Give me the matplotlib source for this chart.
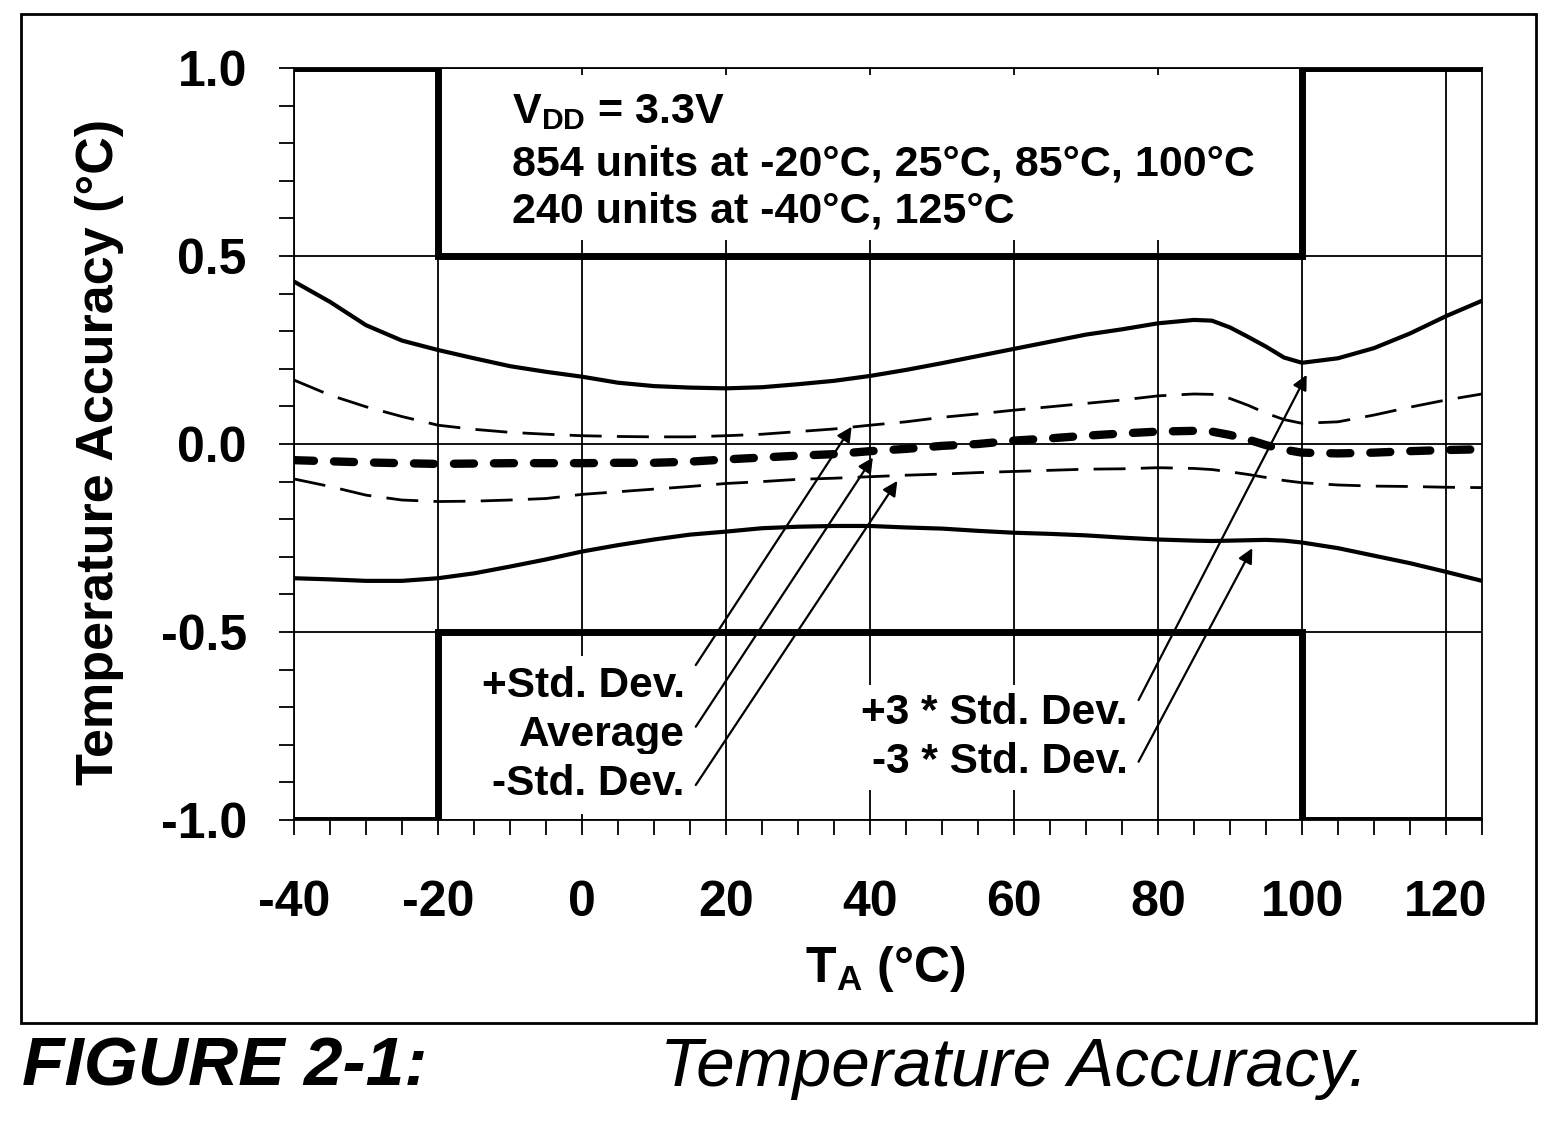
import matplotlib
matplotlib.use('Agg')
import matplotlib.pyplot as plt
from matplotlib.ticker import MultipleLocator
from matplotlib.patches import Rectangle

plt.rcParams['font.family'] = ['Liberation Sans', 'DejaVu Sans']
plt.rcParams['font.weight'] = 'bold'
plt.rcParams['axes.unicode_minus'] = False
plt.rcParams['mathtext.fontset'] = 'custom'
plt.rcParams['mathtext.rm'] = 'Liberation Sans:bold'
plt.rcParams['mathtext.bf'] = 'Liberation Sans:bold'

# data
temps = [-40, -35, -30, -25, -20, -15, -10, -5, 0, 5, 10, 15, 20, 25, 30, 35, 40, 45, 50,
         55, 60, 65, 70, 75, 80, 85, 87.5, 90, 92.5, 95, 97.5, 100, 105, 110, 115, 120, 125]
plus3sd = [0.432, 0.378, 0.316, 0.275, 0.250, 0.228, 0.207, 0.192, 0.179, 0.163, 0.154, 0.150,
           0.148, 0.151, 0.159, 0.168, 0.181, 0.197, 0.215, 0.234, 0.253, 0.272, 0.291, 0.305,
           0.321, 0.330, 0.328, 0.310, 0.285, 0.259, 0.230, 0.216, 0.228, 0.255, 0.294, 0.340, 0.381]
plus1sd = [0.170, 0.130, 0.099, 0.073, 0.050, 0.039, 0.031, 0.026, 0.022, 0.020, 0.019, 0.019,
           0.022, 0.026, 0.033, 0.040, 0.050, 0.059, 0.071, 0.080, 0.090, 0.099, 0.108, 0.117,
           0.128, 0.133, 0.132, 0.121, 0.103, 0.082, 0.065, 0.055, 0.059, 0.077, 0.098, 0.117, 0.133]
average = [-0.043, -0.046, -0.049, -0.051, -0.053, -0.052, -0.051, -0.051, -0.051, -0.050, -0.050,
           -0.047, -0.041, -0.036, -0.031, -0.027, -0.019, -0.013, -0.005, 0.000, 0.009, 0.015,
           0.022, 0.028, 0.033, 0.035, 0.033, 0.024, 0.012, -0.003, -0.015, -0.023, -0.025,
           -0.023, -0.019, -0.016, -0.014]
minus1sd = [-0.093, -0.113, -0.136, -0.149, -0.153, -0.152, -0.149, -0.145, -0.134, -0.127, -0.120,
            -0.113, -0.105, -0.100, -0.094, -0.091, -0.087, -0.083, -0.080, -0.076, -0.073, -0.070,
            -0.067, -0.066, -0.063, -0.065, -0.068, -0.074, -0.081, -0.089, -0.097, -0.103, -0.109,
            -0.112, -0.113, -0.115, -0.116]
minus3sd = [-0.357, -0.360, -0.364, -0.364, -0.357, -0.344, -0.326, -0.307, -0.286, -0.269, -0.254,
            -0.241, -0.233, -0.224, -0.220, -0.218, -0.218, -0.222, -0.225, -0.231, -0.236, -0.239,
            -0.243, -0.249, -0.254, -0.257, -0.258, -0.257, -0.256, -0.255, -0.257, -0.262, -0.277,
            -0.297, -0.317, -0.340, -0.364]

# spec limits (step)
limit_t = [-40, -20, -20, 100, 100, 125]
limit_hi = [1.0, 1.0, 0.5, 0.5, 1.0, 1.0]
limit_lo = [-1.0, -1.0, -0.5, -0.5, -1.0, -1.0]

fig = plt.figure(figsize=(15.54, 11.26), dpi=100)
ax = fig.add_axes([294 / 1554, 1 - 820 / 1126, 1188 / 1554, 752 / 1126])

# outer frame
fig.patches.append(Rectangle((20.7 / 1554, 1 - 1022.7 / 1126), 1515 / 1554, 1008.7 / 1126,
                             transform=fig.transFigure, fill=False, ec='black', lw=2))

ax.set_xlim(-40, 125)
ax.set_ylim(-1.0, 1.0)
ax.xaxis.set_major_locator(MultipleLocator(20))
ax.xaxis.set_minor_locator(MultipleLocator(5))
ax.yaxis.set_major_locator(MultipleLocator(0.5))
ax.yaxis.set_minor_locator(MultipleLocator(0.1))
ax.yaxis.set_major_formatter(matplotlib.ticker.FormatStrFormatter('%.1f'))
ax.grid(True, which='major', color='black', lw=1.3, zorder=0)
ax.set_axisbelow(True)
ax.tick_params(which='both', direction='out', length=11, width=1.3, labelsize=36)
ax.tick_params(axis='y', pad=23)
ax.tick_params(axis='x', pad=32)
for s in ax.spines.values():
    s.set_linewidth(1.3)

# white area behind the info text
ax.add_patch(Rectangle((-20, 0.543), 120, 0.438, fc='white', ec='none', zorder=1))

ax.plot(limit_t, limit_hi, color='black', lw=5, solid_joinstyle='miter', zorder=3)
ax.plot(limit_t, limit_lo, color='black', lw=5, solid_joinstyle='miter', zorder=3)

ax.plot(temps, plus3sd, color='black', lw=3.0, zorder=3)
ax.plot(temps, minus3sd, color='black', lw=3.0, zorder=3)
ax.plot(temps, plus1sd, color='black', lw=2.0, ls=(0, (11.5, 5.5)), zorder=3)
ax.plot(temps, minus1sd, color='black', lw=2.0, ls=(0, (11.5, 5.5)), zorder=3)
ax.plot(temps, average, color='black', lw=6, ls=(0, (2.4, 2.4)), dash_capstyle='round', zorder=3)

# info text
ax.text(-9.67, 0.854, r'$\mathrm{V_{DD}}$ = 3.3V', fontsize=31, ha='left', va='baseline', zorder=4)
ax.text(-9.67, 0.715, '854 units at -20°C, 25°C, 85°C, 100°C', fontsize=31,
        ha='left', va='baseline', zorder=4)
ax.text(-9.67, 0.590, '240 units at -40°C, 125°C', fontsize=31, ha='left', va='baseline', zorder=4)

# curve labels
left_labels = ['+Std. Dev.', 'Average', '-Std. Dev.']
left_label_y = [-0.673, -0.803, -0.934]
for lab, ly in zip(left_labels, left_label_y):
    ax.text(14.26, ly, lab, fontsize=30.5, ha='right', va='baseline', zorder=4,
            bbox=dict(fc='white', ec='none', pad=7))
right_labels = ['+3 * Std. Dev.', '-3 * Std. Dev.']
right_label_y = [-0.745, -0.875]
for lab, ly in zip(right_labels, right_label_y):
    ax.text(75.75, ly, lab, fontsize=30.5, ha='right', va='baseline', zorder=4,
            bbox=dict(fc='white', ec='none', pad=6))

# arrows: (tail) -> (head)
arrow_tails = [(15.8, -0.588), (15.8, -0.752), (15.8, -0.907), (77.3, -0.681), (77.3, -0.845)]
arrow_heads = [(37.45, 0.046), (40.4, -0.036), (43.8, -0.098), (100.65, 0.184), (93.1, -0.277)]
for tail, head in zip(arrow_tails, arrow_heads):
    ax.annotate('', xy=head, xytext=tail, zorder=5,
                arrowprops=dict(arrowstyle='-|>', color='black', lw=1.6,
                                mutation_scale=22, shrinkA=0, shrinkB=0))

# axis labels
fig.text(100 / 1554, 1 - 452 / 1126, 'Temperature Accuracy (°C)', rotation=90,
         fontsize=37.5, ha='center', va='center')
fig.text(885 / 1554, 1 - 982 / 1126, r'$\mathrm{T_A}$ (°C)', fontsize=36, ha='center', va='baseline')

# caption
fig.text(22 / 1554, 1 - 1086 / 1126, 'FIGURE 2-1:', fontsize=50, fontstyle='italic',
         fontweight='bold', ha='left', va='baseline')
fig.text(660 / 1554, 1 - 1086 / 1126, 'Temperature Accuracy.', fontsize=50, fontstyle='italic',
         fontweight='normal', ha='left', va='baseline')

fig.savefig('out.png', dpi=100)
